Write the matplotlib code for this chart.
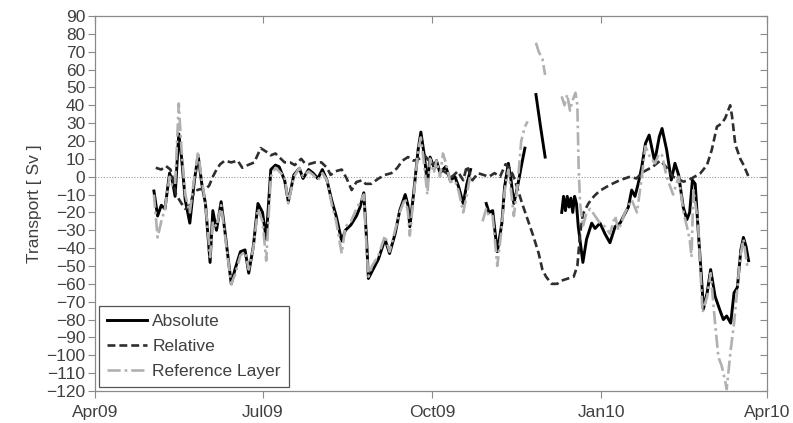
import matplotlib
matplotlib.use("Agg")
import matplotlib.pyplot as plt
import matplotlib.lines as mlines
import numpy as np
import pandas as pd

# days since 2009-04-01, values in Sv
start = pd.Timestamp("2009-04-01")

abs_days = [32, 34, 36, 38, 40.5, 42, 43.5, 45.5, 47, 49, 51.5, 54, 56, 58, 60, 62.5, 64, 66, 68.5, 70.5,
            74, 76, 79, 81.5, 83.5, 86, 88.5, 91, 93, 95.5, 98, 100, 103, 105, 108, 111, 113, 116, 118.5, 121,
            123.5, 126, 128.5, 131, 134, 136, 139, 142, 144, 146, 147.5, 148.5, 150.5, 154, 157.5, 160, 163,
            165.5, 168.5, 170, 171, 173, 175.5, 177, 179, 180.5, 182, 184, 185.5, 187.4, 189, 190.5, 193,
            195.5, 197.5, 200, 202, 204,
            208,
            212.5, 214, 216, 218.5, 221, 222.5, 224.5, 226, 227.5, 229.5, 231.5, 233.5,
            236.5,
            239.5, 242, 244.5,
            249,
            253.5, 254.5, 255.5, 256.5, 257.5, 258.5, 259.5, 260.5, 261.5, 262.5, 264, 265, 267, 269.8, 271.6,
            274.3, 277, 279.7, 282.5, 285.2, 287.9, 289.7, 291.5, 293.3, 295.1, 297, 299, 301, 304, 306.5,
            308, 310.5, 313, 315, 317, 319.5, 321.5, 323, 324.5, 326, 327.5, 329.5, 330.5, 332.5, 334.4,
            336.8, 339.5, 341.3, 343.1, 345.3, 347.1, 348.9, 350.8, 352.2, 353.6, 355]
abs_vals = [-8, -22, -16, -18, 2, -2, -11, 24, 11, -13, -26, -2, 12, -4, -15, -48, -19, -30, -14, -30,
            -60, -52, -42, -41, -54, -39, -15, -20, -35, 4, 6.5, 5.6, -2, -14, 1, 4.7, -1, 4, 2, -1,
            4, -2, -13, -22, -36, -30, -27, -22, -17, -9, -35, -57, -53, -46, -35, -43, -32,
            -19, -10, -16, -28, -10, 15, 25, 11, -4, 11, 5.6, 9, 2, 4, 5.6, -2,
            0, -5.6, -15, -4, 4,
            np.nan,
            -15, -20, -19, -42, -26, -5.6, 7.5, -2, -15, -5.6, 5.6, 16,
            np.nan,
            46, 28, 11,
            np.nan,
            -20, -11, -19, -11, -17, -12, -20, -11, -15, -28, -40, -48, -35, -26, -29,
            -26, -32, -37, -28, -26, -20.5, -17, -7.5, -11, -3.7, 5.6, 18.7, 23.3, 8.4, 22.4,
            27, 15, -1.9, 7.5, 1, -17, -24, -20, -1.9, -4, -28, -58, -74, -65, -52,
            -67, -75, -80, -78, -82, -65, -62, -41, -34, -39, -47]

rel_days = [33, 36, 38.5, 41, 42.5, 44, 47, 49, 51, 54, 57, 60, 62, 64, 66, 68, 70.5, 74, 77.5, 80,
            83, 86.5, 90, 93, 95.5, 98, 100, 103, 106, 108.5, 112, 114, 116, 119.5, 123, 126, 128, 130.5,
            134, 136.7, 139.4, 142, 145, 147, 150, 154, 157.5, 161, 164, 167, 170, 173, 176, 179, 182,
            185, 188, 191, 194, 197, 200, 202, 205, 208, 211, 214, 217, 220, 223, 225, 227, 229, 232,
            235, 238, 241, 243, 245, 248, 251, 254, 257, 260, 262, 263.5, 265, 268, 271, 274, 278, 281.5,
            285, 290.6, 294, 298, 303, 307, 310.6, 314, 319.7, 324, 328.8, 332.4, 335, 337.8, 340.6,
            342.4, 345, 346, 347.8, 350.5, 352.3, 355]
rel_vals = [5, 4, 6, 4, -2, -10, -15, -18, -17, -8, -7, -7, -5, 0, 4, 7, 9, 8, 9, 5,
            6.5, 8, 16, 14, 12, 13, 11, 8, 8, 6.5, 10, 7.5, 7, 8, 8, 5, 1, 3,
            4, -1, -7.5, -3, -2, -4, -4, -1, 1, 2, 4.7, 9, 11, 9, 10, 12, 8,
            6, 4, 2, 0, 3, -2, 6, -2, 2, 1, 0, 2, 0, 7, 5, 1, -5, -15,
            -24, -33, -43, -52, -56, -60, -60, -58, -57, -56, -50, -32, -21, -15, -11, -8, -5.6, -3.7,
            -2, 0, -1, 2.8, 5.6, 9, 5, 0, -2.8, -1, 1.9, 6.5, 15, 28, 30,
            33, 40, 34, 18, 10, 6.5, 0]

ref_days = [32, 34, 36, 38, 40.5, 42, 43.5, 45.5, 47, 49, 51.5, 54, 56, 58, 60, 62.5, 64, 66, 68.5, 70.5,
            74, 76, 79, 81.5, 83.5, 86, 88.5, 91, 93, 95.5, 98, 100, 103, 105, 108, 111, 113, 116, 118.5, 121,
            123.5, 126, 128.5, 131, 134, 136, 139, 142, 144, 146, 147.5, 148.5, 150.5, 154, 157.5, 160, 163,
            165.5, 168.5, 170, 171, 173, 175.5, 177, 179, 180.5, 182, 184, 185.5, 187.4, 189, 190.5, 193,
            195.5, 197.5, 200, 202, 204,
            207,
            210.5, 212.5, 214, 216, 218.5, 221, 222.5, 224.5, 226, 227.5, 229.5, 231.5, 233.5, 235,
            237,
            239.5, 241, 243, 244.5,
            249,
            253.5, 255, 256.5, 258, 259.5, 261, 262, 262.7, 263.5, 265, 267, 269, 271.6, 274.3, 277, 279.7,
            282.5, 284.3, 287.9, 291.5, 294.4, 297, 299, 301.4, 304.2, 306.4, 308, 310.5, 314, 317, 319.7,
            321.5, 323, 324, 325, 327.5, 330, 332.5, 334.4, 336.8, 338.6, 340.4, 342.2, 343.1, 345.3, 347.1,
            348.9, 350.4, 352.2, 354.3]
ref_vals = [-10, -34, -25, -18, 0, -5, -5, 41, 15, -10, -20, 0, 14, -2, -15, -45, -25, -28, -16, -32,
            -60, -55, -44, -42, -52, -40, -18, -25, -47, 0, 5, 3, 0, -15, 0, 5, 0, 3, 1, -2,
            2, -2, -15, -25, -43, -28, -25, -18, -14, -10, -40, -56, -50, -44, -33, -42, -30,
            -20, -12, -20, -33, -12, 15, 22, 5, -10, 10, 2, 9, 0, 13, 8, -3,
            -2, -8, -20, -10, 2,
            np.nan,
            -25, -18, -22, -22, -50, -28, -8, 4, -8, -22, -5, 20, 28, 31,
            np.nan,
            75, 70, 66, 57,
            np.nan,
            45, 40, 46, 37, 43, 47, 40, 5, -15, -28, -20, -18, -22, -26, -28, -32,
            -22, -30, -20, -13, -20, 0, 17, 11, 7.5, 13, 12, 0, -10, 0, -20,
            -28, -35, -45, -7.5, -25, -76, -67, -54, -82, -101, -106, -114, -119, -97, -82,
            -63, -45, -35, -50]

month_ticks = ["2009-04-01", "2009-07-01", "2009-10-01", "2010-01-01", "2010-04-01"]
month_labels = ["Apr09", "Jul09", "Oct09", "Jan10", "Apr10"]


def to_dates(days):
    return start + pd.to_timedelta(np.array(days), unit="D")


plt.rcParams["font.family"] = ["Liberation Sans", "DejaVu Sans"]

fig = plt.figure(figsize=(7.93, 4.23), dpi=100)
ax = fig.add_axes([0.1198, 0.0757, 0.8474, 0.8865])

spine_col = "#8a8a8a"
text_col = "#404040"

ax.axhline(0, color="#999999", lw=0.8, ls=(0, (1, 1.5)), zorder=1)

ax.plot(to_dates(abs_days), abs_vals, color="black", lw=2.1, label="Absolute", zorder=3)
ax.plot(to_dates(rel_days), rel_vals, color="#2e2e2e", lw=1.9, ls=(0, (3, 1.5)), label="Relative", zorder=4)
ax.plot(to_dates(ref_days), ref_vals, color="#b0b0b0", lw=1.9, ls=(0, (5, 1.5, 1, 1.5)),
        label="Reference Layer", zorder=5)

ax.set_xlim(pd.Timestamp(month_ticks[0]), pd.Timestamp(month_ticks[-1]))
ax.set_ylim(-120, 90)
ax.set_xticks([pd.Timestamp(t) for t in month_ticks])
ax.set_xticklabels(month_labels)
ax.set_yticks(np.arange(-120, 91, 10))

ax.tick_params(axis="both", which="both", direction="out", colors=spine_col, labelcolor=text_col,
               labelsize=12.5, length=5, width=0.8)
ax.tick_params(axis="x", pad=5)
ax.tick_params(axis="y", pad=2)
ax.tick_params(top=True, right=True, labeltop=False, labelright=False)

# right and top ticks point inward
for t in ax.yaxis.get_major_ticks():
    t.tick2line.set_marker(mlines.TICKLEFT)
for t in ax.xaxis.get_major_ticks():
    t.tick2line.set_marker(mlines.TICKDOWN)

for s in ax.spines.values():
    s.set_color(spine_col)
    s.set_linewidth(0.9)

ax.set_ylabel("Transport [ Sv ]", color=text_col, fontsize=12.5, labelpad=3)

leg = ax.legend(loc="lower left", fontsize=12.5, handlelength=2.3, handletextpad=0.3, borderpad=0.45,
                labelspacing=0.55, fancybox=False, framealpha=1, borderaxespad=0.25)
leg.get_frame().set_edgecolor("#555555")
leg.get_frame().set_linewidth(0.9)
for t in leg.get_texts():
    t.set_color(text_col)

fig.savefig("out.png", dpi=100)
